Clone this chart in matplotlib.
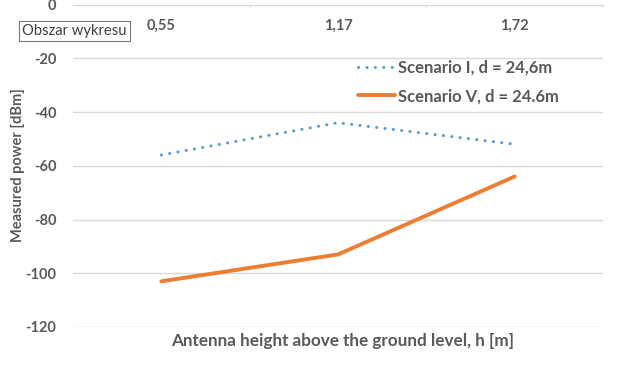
import matplotlib
matplotlib.use("Agg")
import matplotlib.pyplot as plt

categories = ["0,55", "1,17", "1,72"]
scenario_1 = [-56, -44, -52]
scenario_5 = [-103, -93, -64]
y_ticks = [0, -20, -40, -60, -80, -100, -120]

plt.rcParams['font.family'] = ['Lato', 'DejaVu Sans']
text_col = "#595959"
grid_col = "#D9D9D9"

fig = plt.figure(figsize=(6.38, 3.84), dpi=100)
ax = fig.add_axes([73/638, 1-327/384, (603-73)/638, (327-4.5)/384])

x = list(range(len(categories)))
ax.plot(x, scenario_1, color="#5B9BD5", lw=2.2, linestyle=(0, (0.05, 2.7)),
        dash_capstyle="round", label="Scenario I, d = 24,6m")
ax.plot(x, scenario_5, color="#ED7D31", lw=2.8, solid_capstyle="round",
        label="Scenario V, d = 24.6m")

ax.set_xlim(-0.5, 2.5)
ax.set_ylim(-120, 0)
ax.set_yticks(y_ticks)
ax.set_yticklabels([str(v) for v in y_ticks], fontsize=10.5, fontweight="bold", color=text_col)
ax.yaxis.grid(True, color=grid_col, lw=1)
ax.tick_params(axis="y", length=0, pad=12)
ax.set_axisbelow(True)
for s in ax.spines.values():
    s.set_visible(False)

ax.set_xticks([])
for i, c in enumerate(categories):
    ax.annotate(c, xy=(i, 0), xytext=(0, -15), textcoords="offset points",
                ha="center", va="center", fontsize=10.5, fontweight="bold", color=text_col)
for xt in [0.5, 1.5, 2.5]:
    ax.plot([xt, xt], [0, -0.7], color=grid_col, lw=1, clip_on=False)

fig.text(18/638, 1-165/384, "Measured power [dBm]", rotation=90, ha="center", va="center",
         fontsize=10.5, fontweight="bold", color=text_col)
fig.text(343/638, 1-341/384, "Antenna height above the ground level, h [m]",
         ha="center", va="center", fontsize=12.3, fontweight="bold", color=text_col)

leg = fig.legend(*ax.get_legend_handles_labels(), loc="center left",
                 bbox_to_anchor=(343/638, 1-82/384), frameon=False,
                 fontsize=12, handlelength=2.2, handletextpad=0.2, labelspacing=0.75)
for t in leg.get_texts():
    t.set_color(text_col)
    t.set_fontweight("bold")

fig.text(22/638, 1-31/384, "Obszar wykresu", ha="left", va="center", fontsize=10.6,
         color="#404040",
         bbox=dict(boxstyle="square,pad=0.22", fc="white", ec="#767676", lw=0.8))

fig.savefig("out.png", dpi=100)
